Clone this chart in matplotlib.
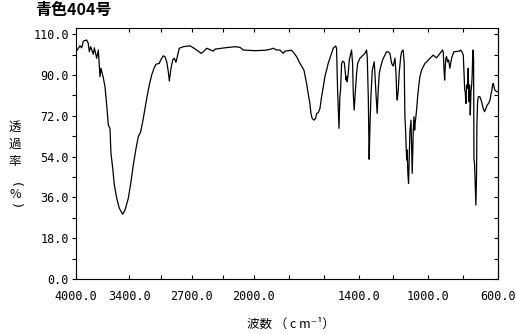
import numpy as np
import matplotlib
matplotlib.use('Agg')
import matplotlib.pyplot as plt

title = '青色404号'
ylabel_chars = ['透', '過', '率', '(', '%', ')']
ylabel_rot = [0, 0, 0, -90, 0, -90]
ylabel_pos = [127, 144, 161, 184, 194, 205]   # pixel rows of the stacked label
xlabel = '波数 （ c m⁻¹）'

# IR spectrum: wavenumber (cm-1) and transmittance (%)
wavenumber = [
    4000, 3955, 3936, 3918, 3880, 3862, 3850, 3835, 3806, 3794, 3767, 3749,
    3730, 3719, 3693, 3674, 3655, 3637, 3618, 3607, 3587, 3569, 3542, 3513,
    3475, 3449, 3412, 3382, 3356, 3325, 3300, 3273, 3250, 3224, 3198, 3176,
    3149, 3123, 3101, 3064, 3048, 3019, 3000, 2980, 2962, 2951, 2932, 2913,
    2895, 2876, 2857, 2839, 2794, 2718, 2681, 2625, 2595, 2569, 2531, 2456,
    2437, 2325, 2212, 2156, 2119, 1994, 1937, 1908, 1889, 1870, 1851, 1832,
    1822, 1784, 1769, 1755, 1736, 1713, 1698, 1689, 1679, 1673, 1666, 1656,
    1646, 1640, 1631, 1621, 1612, 1602, 1593, 1583, 1574, 1564, 1554, 1545,
    1531, 1526, 1520, 1512, 1507, 1503, 1497, 1491, 1482, 1476, 1472, 1468,
    1465, 1459, 1453, 1444, 1440, 1434, 1430, 1425, 1419, 1411, 1405, 1392,
    1373, 1363, 1354, 1350, 1344, 1339, 1335, 1329, 1321, 1310, 1306, 1300,
    1293, 1287, 1281, 1273, 1262, 1249, 1239, 1230, 1220, 1210, 1201, 1191,
    1185, 1181, 1178, 1172, 1167, 1158, 1153, 1144, 1138, 1134, 1130, 1124,
    1121, 1117, 1113, 1109, 1105, 1099, 1095, 1092, 1086, 1082, 1078, 1075,
    1067, 1061, 1055, 1048, 1038, 1029, 1019, 1009, 1000, 990, 972, 952,
    933, 918, 914, 910, 906, 903, 899, 895, 889, 883, 876, 870,
    864, 853, 822, 814, 807, 799, 795, 791, 788, 784, 780, 774,
    771, 767, 763, 759, 755, 751, 748, 744, 740, 738, 734, 731,
    727, 723, 721, 717, 713, 704, 694, 685, 677, 669, 662, 654,
    646, 641, 635, 631, 627, 623, 618, 608, 600,
]
transmittance = [
    102.1, 104.8, 103.9, 106.9, 107.4, 105.9, 102.1, 104.4, 101.0, 103.9, 99.2, 102.9,
    90.9, 94.7, 90.4, 86.4, 78.2, 69.2, 67.7, 56.5, 49.7, 42.2, 36.3, 31.8,
    29.1, 31.0, 36.3, 43.7, 51.2, 58.7, 63.9, 66.2, 70.7, 76.7, 82.7, 87.2,
    91.7, 94.7, 96.5, 96.9, 98.4, 100.3, 99.9, 97.6, 93.1, 89.0, 94.7, 98.4,
    99.2, 97.4, 100.6, 103.7, 104.4, 104.8, 103.9, 102.4, 101.4, 102.1, 103.7, 102.4,
    103.3, 103.9, 104.4, 104.1, 102.9, 102.6, 102.8, 103.2, 103.7, 102.9, 102.9, 101.4,
    102.4, 102.8, 101.4, 99.9, 96.9, 93.9, 87.9, 83.4, 78.9, 74.4, 72.2, 71.4,
    72.2, 74.4, 74.7, 76.7, 81.9, 86.4, 90.9, 93.9, 96.9, 99.2, 101.4, 103.7,
    104.7, 103.7, 84.9, 67.7, 81.9, 84.9, 96.9, 97.9, 97.4, 93.1, 89.4, 90.9,
    88.6, 92.4, 98.4, 101.4, 102.9, 96.9, 83.4, 75.9, 83.4, 92.4, 96.9, 99.2,
    100.6, 101.4, 102.9, 99.9, 81.9, 53.8, 66.9, 81.9, 93.9, 97.6, 92.4, 83.4,
    74.4, 84.9, 92.4, 95.4, 98.4, 100.6, 102.1, 102.1, 101.4, 96.9, 95.7, 99.2,
    92.4, 82.7, 80.4, 84.9, 92.4, 99.9, 102.1, 102.9, 96.9, 72.9, 66.9, 53.5,
    58.0, 47.5, 43.0, 54.9, 66.9, 71.4, 56.5, 47.5, 66.9, 72.9, 66.9, 70.0,
    75.9, 81.9, 86.4, 90.9, 93.9, 95.4, 96.9, 97.6, 98.4, 99.2, 100.6, 99.4,
    101.4, 102.9, 102.1, 94.7, 89.4, 94.7, 99.2, 99.9, 97.6, 98.4, 94.7, 97.6,
    99.9, 102.1, 102.4, 102.9, 102.1, 100.6, 93.1, 84.9, 84.2, 78.9, 87.2, 85.7,
    94.7, 79.7, 87.2, 73.7, 84.2, 87.2, 91.7, 102.9, 99.2, 54.2, 51.2, 43.7,
    33.2, 46.7, 69.2, 79.7, 81.9, 81.9, 79.7, 76.7, 75.2, 76.7, 78.2, 78.9,
    80.4, 82.7, 84.9, 87.2, 87.9, 86.4, 84.9, 84.2, 84.2,
]

xtick_major = [4000, 3400, 2700, 2000, 1400, 1000, 600]
xtick_labels = ['4000.0', '3400.0', '2700.0', '2000.0', '1400.0', '1000.0', '600.0']
xtick_minor = [3050, 2350, 1800, 1600, 1200, 800]
ytick_major = np.linspace(0, 110, 7)
ytick_labels = ['0.0', '18.0', '36.0', '54.0', '72.0', '90.0', '110.0']
ytick_minor = np.linspace(0, 110, 13)[1::2]

# below 2000 cm-1 the axis is stretched about twice
R = 1.96


def fwd(x):
    x = np.asarray(x, dtype=float)
    return np.where(x >= 2000, x, 2000 - (2000 - x) * R)


def inv(v):
    v = np.asarray(v, dtype=float)
    return np.where(v >= 2000, v, 2000 - (2000 - v) / R)


W, H = 516, 334
fig = plt.figure(figsize=(W / 100, H / 100), dpi=100)
ax = fig.add_axes([76 / W, 1 - 279 / H, 422 / W, 251 / H])

ax.set_xscale('function', functions=(fwd, inv))
ax.plot(wavenumber, transmittance, color='black', lw=0.9)
ax.set_xlim(4000, 600)
ax.set_ylim(0, 112.8)

mono = 'DejaVu Sans Mono'
cjk = ['Noto Sans CJK JP', 'DejaVu Sans']

ax.set_xticks(xtick_major)
ax.set_xticklabels(xtick_labels, family=mono, fontsize=8.5)
ax.set_xticks(xtick_minor, minor=True)
ax.tick_params(axis='x', which='both', direction='in', top=True, bottom=True,
               length=3, width=0.8, pad=8)

ax.set_yticks(ytick_major)
ax.set_yticklabels(ytick_labels, family=mono, fontsize=8.5)
ax.set_yticks(ytick_minor, minor=True)
ax.tick_params(axis='y', which='both', direction='out', length=3, width=0.8, pad=2)

right = ax.secondary_yaxis('right')
right.set_yticks(ytick_major)
right.set_yticks(ytick_minor, minor=True)
right.tick_params(axis='y', which='both', direction='in', length=3, width=0.8,
                  labelright=False)
right.spines['right'].set_linewidth(0.8)

for s in ax.spines.values():
    s.set_linewidth(0.8)

fig.text(35 / W, 1 - 10 / H, title, family=cjk, fontsize=11.5, fontweight='bold',
         ha='left', va='center')

# stacked vertical label; the brackets are turned to lie flat as in vertical writing
for ch, rot, yp in zip(ylabel_chars, ylabel_rot, ylabel_pos):
    fam = 'DejaVu Sans' if rot else cjk
    fig.text(15 / W, 1 - yp / H, ch, family=fam, fontsize=9, rotation=rot,
             ha='center', va='center')

fig.text(291 / W, 1 - 324 / H, xlabel, family=cjk, fontsize=9, ha='center', va='center')

fig.savefig('out.png', dpi=100)
